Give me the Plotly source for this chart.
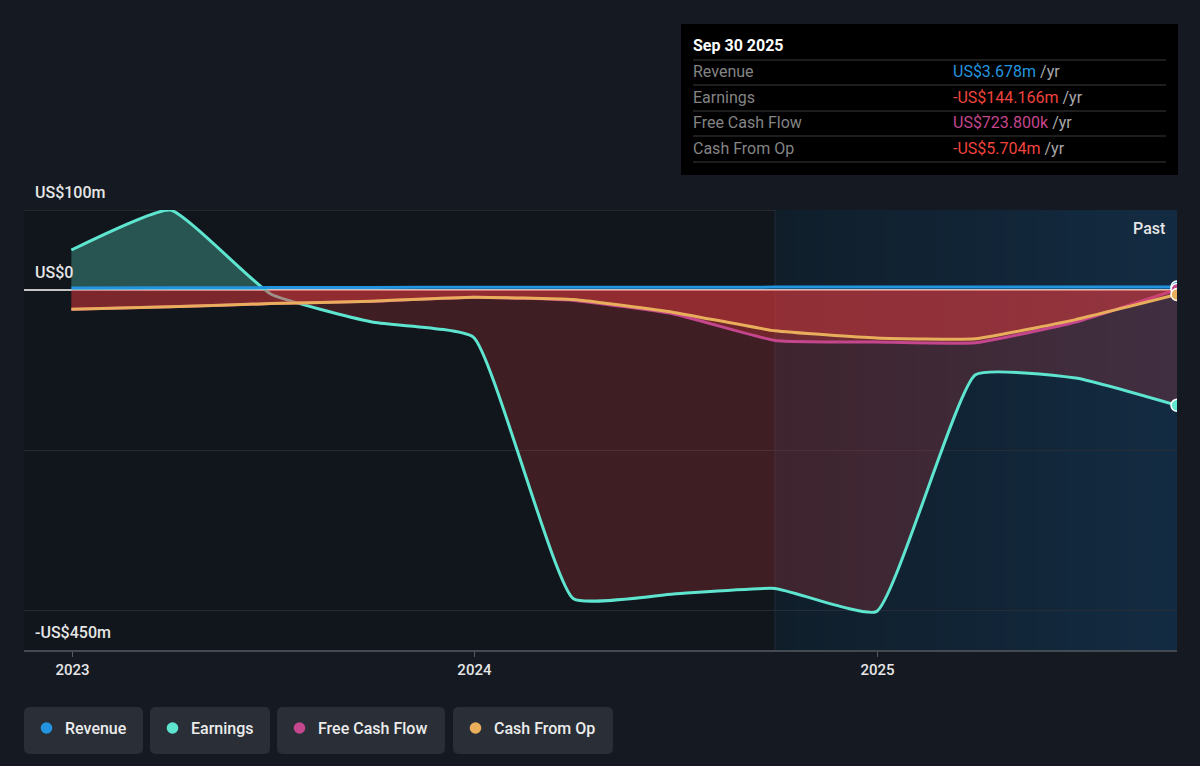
import plotly.graph_objects as go
import datetime as _dt

# ---------------- data ----------------
dates = ["2022-12-31", "2023-03-31", "2023-06-30", "2023-09-30", "2023-12-31",
         "2024-03-31", "2024-06-30", "2024-09-30", "2024-12-31", "2025-03-31",
         "2025-06-30", "2025-09-30"]
revenue = [2.4, 2.7, 3.0, 3.2, 3.4, 3.5, 3.5, 3.6, 3.6, 3.6, 3.7, 3.678]
earnings = [50, 100, -5, -40, -59, -386, -380, -373, -402, -106, -110, -144.166]
free_cash_flow = [-24, -21, -17, -14, -9, -13, -30, -63, -65, -66, -40, 0.7238]
cash_from_op = [-24, -21, -17, -14, -9, -12, -28, -51, -60, -61, -37, -5.704]

x_range = ["2022-11-18", "2025-09-30"]
past_start = "2024-09-30"
year_ticks = ["2023-01-01", "2024-01-01", "2025-01-01"]
year_labels = ["2023", "2024", "2025"]
y_range = [-450, 100]
y_grid = [-400, -200, 0, 100]
y_labels = {100: "US$100m", 0: "US$0", -450: "-US$450m"}

tooltip_title = "Sep 30 2025"
tooltip_rows = [
    ("Revenue", "US$3.678m", "#2394df"),
    ("Earnings", "-US$144.166m", "#f0443c"),
    ("Free Cash Flow", "US$723.800k", "#c4468c"),
    ("Cash From Op", "-US$5.704m", "#f0443c"),
]

C_REV = "#2394df"
C_EARN = "#5ee5d0"
C_FCF = "#c4468c"
C_CFO = "#e9ae5b"
FONT = "Roboto"
SMOOTH = 0.4

# ---------------- layout helpers ----------------
L, R, T, B = 24, 1177, 210, 650
W, H = R - L, B - T


def px(x):
    return (x - L) / W


def py(y):
    return (B - y) / H


def rounded_rect(x0, y0, x1, y1, r):
    pts = [
        ("M", [(x0 + r, y0)]),
        ("L", [(x1 - r, y0)]),
        ("Q", [(x1, y0), (x1, y0 + r)]),
        ("L", [(x1, y1 - r)]),
        ("Q", [(x1, y1), (x1 - r, y1)]),
        ("L", [(x0 + r, y1)]),
        ("Q", [(x0, y1), (x0, y1 - r)]),
        ("L", [(x0, y0 + r)]),
        ("Q", [(x0, y0), (x0 + r, y0)]),
    ]
    s = ""
    for cmd, ps in pts:
        s += cmd + " " + " ".join(f"{px(a):.5f},{py(b):.5f}" for a, b in ps) + " "
    return s + "Z"


fig = go.Figure()

zero_pos = (0 - y_range[0]) / (y_range[1] - y_range[0])
fig.add_trace(go.Scatter(
    x=dates, y=earnings, mode="lines",
    line=dict(color=C_EARN, width=3, shape="spline", smoothing=SMOOTH),
    fill="tozeroy",
    fillgradient=dict(
        type="vertical", start=y_range[0], stop=y_range[1],
        colorscale=[[0, "rgba(225,60,62,0.22)"], [zero_pos, "rgba(225,60,62,0.22)"],
                    [zero_pos, "rgba(94,232,208,0.30)"], [1, "rgba(94,232,208,0.30)"]],
    ),
    hoverinfo="skip", showlegend=False,
))
fig.add_trace(go.Scatter(
    x=dates, y=free_cash_flow, mode="lines",
    line=dict(color=C_FCF, width=3, shape="spline", smoothing=SMOOTH),
    fill="tozeroy", fillcolor="rgba(230,58,62,0.29)",
    hoverinfo="skip", showlegend=False,
))
fig.add_trace(go.Scatter(
    x=dates, y=cash_from_op, mode="lines",
    line=dict(color=C_CFO, width=3, shape="spline", smoothing=SMOOTH),
    fill="tozeroy", fillcolor="rgba(230,58,62,0.29)",
    hoverinfo="skip", showlegend=False,
))
fig.add_trace(go.Scatter(
    x=dates, y=revenue, mode="lines",
    line=dict(color=C_REV, width=3, shape="spline", smoothing=SMOOTH),
    hoverinfo="skip", showlegend=False,
))

for series, col in [(earnings, C_EARN), (revenue, C_REV), (free_cash_flow, C_FCF), (cash_from_op, C_CFO)]:
    fig.add_trace(go.Scatter(
        x=[dates[-1]], y=[series[-1]], mode="markers",
        marker=dict(size=12, color=col, line=dict(color="white", width=1.5)),
        hoverinfo="skip", showlegend=False,
    ))

shapes = []
annotations = []

# past region: horizontal gradient from stacked bands (each runs to the end -> no seams)
d0 = _dt.date.fromisoformat(past_start)
d1 = _dt.date.fromisoformat(dates[-1])
n = 40
c_a = (16, 30, 42)
c_b = (19, 43, 66)
span = (d1 - d0).days
for i in range(n):
    t = (i + 0.5) / n
    c = tuple(int(round(c_a[k] + (c_b[k] - c_a[k]) * t)) for k in range(3))
    xa = d0 + _dt.timedelta(days=span * i / n)
    shapes.append(dict(type="rect", xref="x", yref="y", x0=xa.isoformat(), x1=(d1 + _dt.timedelta(days=5)).isoformat(),
                       y0=y_range[0], y1=y_range[1], fillcolor=f"rgb{c}",
                       line=dict(width=0), layer="below"))
shapes.append(dict(type="line", xref="x", yref="y", x0=past_start, x1=past_start,
                   y0=y_range[0], y1=y_range[1], line=dict(color="#222d39", width=1), layer="below"))
shapes.append(dict(type="line", xref="paper", yref="y", x0=0, x1=1, y0=100, y1=100,
                   line=dict(color="#3b4048", width=1.2), layer="below"))

for v, txt in y_labels.items():
    annotations.append(dict(xref="paper", yref="y", x=px(33), y=v, xanchor="left", yanchor="bottom",
                            yshift=6, text=txt, showarrow=False,
                            font=dict(family=FONT, size=16, color="#e6e6e6", weight=500)))

annotations.append(dict(xref="paper", yref="paper", x=px(1167), y=py(228), xanchor="right",
                        yanchor="middle", text="Past", showarrow=False,
                        font=dict(family=FONT, size=16, color="#e6e6e6", weight=500)))

# tooltip box
shapes.append(dict(type="rect", xref="paper", yref="paper", x0=px(681), x1=px(1178),
                   y0=py(24), y1=py(175), fillcolor="#000000", line=dict(width=0)))
for yy in [60, 85, 111, 136, 162]:
    shapes.append(dict(type="line", xref="paper", yref="paper", x0=px(693), x1=px(1166),
                       y0=py(yy), y1=py(yy), line=dict(color="#3a3a3a", width=1)))
annotations.append(dict(xref="paper", yref="paper", x=px(691), y=py(46), xanchor="left",
                        yanchor="middle", text="<b>" + tooltip_title + "</b>", showarrow=False,
                        font=dict(family=FONT, size=16, color="#ffffff")))
for i, (lab, val, col) in enumerate(tooltip_rows):
    yc = [72, 97, 123, 148][i]
    annotations.append(dict(xref="paper", yref="paper", x=px(691), y=py(yc), xanchor="left",
                            yanchor="middle", text=lab, showarrow=False,
                            font=dict(family=FONT, size=16, color="#848484")))
    annotations.append(dict(xref="paper", yref="paper", x=px(951), y=py(yc), xanchor="left",
                            yanchor="middle",
                            text=f'<span style="color:{col}">{val}</span> /yr', showarrow=False,
                            font=dict(family=FONT, size=16, color="#a9a9a9")))

legend_items = [("Revenue", C_REV, 24, 143), ("Earnings", C_EARN, 150, 270),
                ("Free Cash Flow", C_FCF, 277, 445), ("Cash From Op", C_CFO, 453, 613)]
for name, col, x0, x1 in legend_items:
    shapes.append(dict(type="path", xref="paper", yref="paper",
                       path=rounded_rect(x0, 707, x1, 754, 6),
                       fillcolor="#2a2f37", line=dict(width=0)))
    cx, cy, r = x0 + 22.5, 728, 5.8
    shapes.append(dict(type="circle", xref="paper", yref="paper",
                       x0=px(cx - r), x1=px(cx + r), y0=py(cy + r), y1=py(cy - r),
                       fillcolor=col, line=dict(width=0)))
    annotations.append(dict(xref="paper", yref="paper", x=px(x0 + 39), y=py(728), xanchor="left",
                            yanchor="middle", text=name, showarrow=False,
                            font=dict(family=FONT, size=16, color="#ececec", weight=500)))

fig.update_layout(
    width=1200, height=766,
    margin=dict(l=L, r=1200 - R, t=T, b=766 - B),
    paper_bgcolor="#151a22", plot_bgcolor="#11151c",
    shapes=shapes, annotations=annotations,
    font=dict(family=FONT, color="#e6e6e6"),
    xaxis=dict(type="date", range=x_range, tickvals=year_ticks, ticktext=year_labels,
               showgrid=False, zeroline=False, showline=True, linecolor="#444a52", linewidth=1.5,
               ticks="outside", ticklen=5, tickcolor="#555b63", tickwidth=1,
               tickfont=dict(family=FONT, size=15, color="#e6e6e6", weight=500), fixedrange=True),
    yaxis=dict(range=y_range, tickvals=y_grid, showticklabels=False, showgrid=True,
               gridcolor="#262c35", gridwidth=1, zeroline=True, zerolinecolor="#c4c4c4",
               zerolinewidth=1.5, showline=False, fixedrange=True),
    hovermode=False,
)

fig.write_html("out.html", config={"displayModeBar": False})
